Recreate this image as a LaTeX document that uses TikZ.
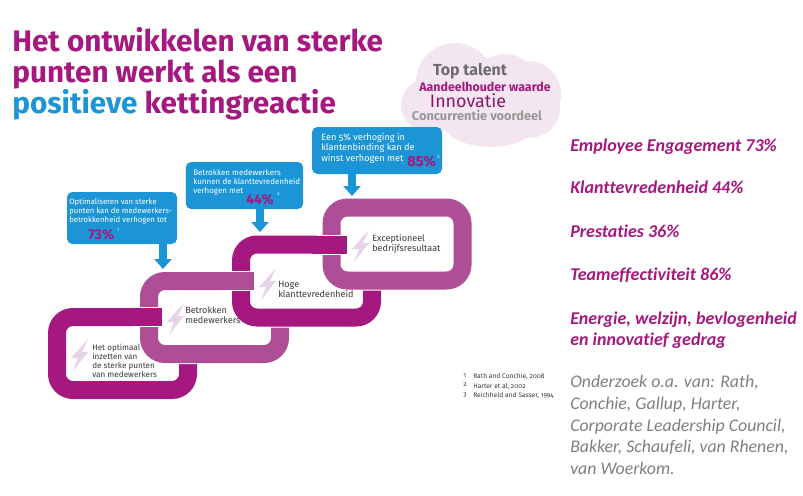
\documentclass[tikz,border=0pt]{standalone}
\usepackage{fontspec}
\usetikzlibrary{arrows.meta}
\setmainfont{Fira Sans}
\newfontfamily\oldnum[Numbers=OldStyle]{Fira Sans}
\newfontfamily\calibri[RawFeature={-liga}]{Carlito}
\definecolor{darkpurple}{HTML}{A5187F}
\definecolor{midpurple}{HTML}{AE4E96}
\definecolor{boltpink}{HTML}{E8D2E8}
\definecolor{cloudpink}{HTML}{F3E6F0}
\definecolor{sky}{HTML}{1B95D6}
\definecolor{greytxt}{HTML}{7F7F7F}
\definecolor{inktxt}{HTML}{3A3A3A}

\newcommand{\fsz}[2]{\fontsize{#1}{#2}\selectfont}

\tikzset{
  ring/.style={draw=#1, fill=white, line width=13.5pt, rounded corners=12pt,
    minimum width=98.25pt, minimum height=54.75pt, inner sep=0pt,
    preaction={draw=white, line width=15pt}},
  bluebox/.style={fill=sky, rounded corners=4pt, inner sep=0pt},
  boxarrow/.style={sky, line width=6pt, -{Triangle[length=7.5pt,width=12.75pt]}},
  txt/.style={anchor=north west, inner sep=0pt, align=left},
  ringtxt/.style={txt, inktxt, font=\oldnum\fsz{6.8}{7.5}},
  pct/.style={anchor=base west, inner sep=0pt, darkpurple, font=\bfseries\fsz{#1}{#1}},
  supnr/.style={anchor=base west, inner sep=0pt, white, font=\fsz{3.5}{3.5}},
  headtxt/.style={anchor=base west, inner sep=0pt, darkpurple, font=\bfseries\fsz{22.3}{22.3}},
  sidetxt/.style={anchor=base west, inner sep=0pt, darkpurple, font=\calibri\bfseries\itshape\fsz{13.5}{13.5}},
  cloudtxt/.style={anchor=base, inner sep=0pt}
}

\newcommand{\bolt}[2]{
  \fill[boltpink] (#1+8,#2-16) -- (#1-9,#2+3) -- (#1-2,#2+3) -- (#1-7,#2+16)
    -- (#1+8,#2-3) -- (#1+2,#2-3) -- cycle;
}
\newcommand{\chainbar}[3]{
  \fill[white] (#1-30,#2-10) rectangle (#1+1,#2+10);
  \fill[#3] (#1-35,#2-9) rectangle (#1,#2+9);
}

\begin{document}
\begin{tikzpicture}[x=0.75pt,y=-0.75pt]
\useasboundingbox (0,0) rectangle (803,496);

% cloud
\fill[cloudpink] (455,82) circle (39) (505,88) circle (34) (432,105) ellipse (31 and 28)
  (528,94) circle (33) (528,110) ellipse (32 and 28) (490,118) ellipse (50 and 29);

\node[cloudtxt, greytxt!85!black, font=\bfseries\fsz{12}{12}] (top) at (470,75) {Top talent};
\node[cloudtxt, darkpurple, font=\bfseries\fsz{9.3}{9.3}] (aandeel) at (485,91) {Aandeelhouder waarde};
\node[cloudtxt, darkpurple!85!black, font=\fontsize{13.4}{13.4}\fontseries{l}\selectfont] (innov) at (468,107) {Innovatie};
\node[cloudtxt, greytxt!80, font=\bfseries\fsz{9.6}{9.6}] (concur) at (477,120) {Concurrentie voordeel};

% title
\node[headtxt] (kop1) at (12,51) {Het ontwikkelen van sterke};
\node[headtxt] (kop2) at (12,82) {punten werkt als een};
\node[headtxt] (kop3) at (12,113) {\textcolor{sky}{positieve} kettingreactie};

% chain
\node[ring=darkpurple] (ringA) at (122.5,353.5) {};
\node[ring=midpurple] (ringB) at (214.5,317.5) {};
\chainbar{162}{317}{darkpurple}
\node[ring=darkpurple] (ringC) at (306.5,281) {};
\chainbar{254}{281}{midpurple}
\node[ring=midpurple] (ringD) at (397,244) {};
\chainbar{347}{244.5}{darkpurple}

\bolt{80}{355}
\bolt{176}{319}
\bolt{268}{284}
\bolt{361}{246}

\node[txt, inktxt, font=\oldnum\fsz{6.1}{6.75}] (tekstA) at (92,344) {Het optimaal\\inzetten van\\de sterke punten\\van medewerkers};
\node[ringtxt] (tekstB) at (185,306) {Betrokken\\medewerkers};
\node[ringtxt] (tekstC) at (278,281) {Hoge\\klanttevredenheid};
\node[ringtxt] (tekstD) at (372,234) {Exceptioneel\\bedrijfsresultaat};

% blue boxes
\node[bluebox, minimum width=82.5pt, minimum height=39pt] (boxA) at (122,218) {};
\node[bluebox, minimum width=88pt, minimum height=35.25pt] (boxB) at (244.5,185.5) {};
\node[bluebox, minimum width=97.5pt, minimum height=35.25pt] (boxC) at (377,150.5) {};

\coordinate (tipA) at (163,269);
\coordinate (tipB) at (260,232);
\coordinate (tipC) at (352,196);
\draw[boxarrow] (boxA.south -| tipA) -- (tipA);
\draw[boxarrow] (boxB.south -| tipB) -- (tipB);
\draw[boxarrow] (boxC.south -| tipC) -- (tipC);

\node[txt, white, font=\oldnum\fsz{5.8}{6.75}] (tekstBoxA) at (69,198) {Optimaliseren van sterke\\punten kan de medewerkers-\\betrokkenheid verhogen tot};
\node[txt, white, font=\oldnum\fsz{6}{6.75}] (tekstBoxB) at (193,169) {Betrokken medewerkers\\kunnen de klanttevredenheid\\verhogen met};
\node[txt, white, font=\oldnum\fsz{6.9}{7.8}] (tekstBoxC) at (321,133) {Een 5\% verhoging in\\klantenbinding kan de\\winst verhogen met};

\node[pct=10.5] (pctA) at (88,239) {73\%};
\node[pct=10.5] (pctB) at (246,204) {44\%};
\node[pct=11] (pctC) at (407,166) {85\%};
\node[supnr] (supA) at (117,231) {1};
\node[supnr] (supB) at (277,195) {2};
\node[supnr] (supC) at (437,158) {3};

% references
\node[txt, inktxt, font=\oldnum\fsz{5}{7.3}] (refnr) at (463,373) {1\\2\\3};
\node[txt, inktxt, font=\oldnum\fsz{5}{7.3}] (refs) at (473,373) {Rath and Conchie, 2008\\Harter et al, 2002\\Reichheld and Sasser, 1994};

% right column
\node[sidetxt] (zijA) at (570,151) {Employee Engagement 73\%};
\node[sidetxt] (zijB) at (570,193) {Klanttevredenheid 44\%};
\node[sidetxt] (zijC) at (570,237) {Prestaties 36\%};
\node[sidetxt] (zijD) at (570,280) {Teameffectiviteit 86\%};
\node[sidetxt] (zijE) at (570,324) {Energie, welzijn, bevlogenheid};
\node[sidetxt] (zijF) at (570,345) {en innovatief gedrag};
\node[txt, greytxt, font=\calibri\itshape\fsz{13.35}{16.3}] (onderzoek) at (570,375)
  {Onderzoek o.a. van: Rath,\\Conchie, Gallup, Harter,\\Corporate Leadership Council,\\Bakker, Schaufeli, van Rhenen,\\van Woerkom.};

\end{tikzpicture}
\end{document}
